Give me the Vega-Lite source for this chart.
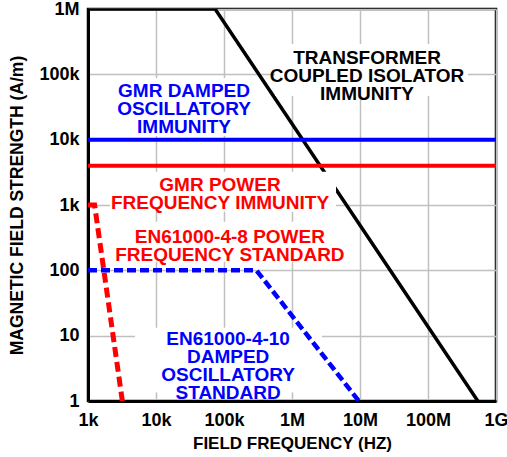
{
  "$schema": "https://vega.github.io/schema/vega-lite/v6.json",
  "autosize": {"type": "none"},
  "padding": {"left": 88, "top": 9, "right": 11, "bottom": 56},
  "width": 408,
  "height": 392,
  "background": "white",
  "config": {
    "view": {"stroke": "black", "strokeWidth": 2.5},
    "font": "Liberation Sans",
    "axis": {
      "labelFont": "Liberation Sans",
      "labelFontWeight": "bold",
      "labelFontSize": 18,
      "labelColor": "black",
      "titleFont": "Liberation Sans",
      "titleFontWeight": "bold",
      "titleFontSize": 17,
      "titleColor": "black",
      "ticks": false,
      "gridColor": "#c0c0c0",
      "gridWidth": 1.5,
      "gridOpacity": 1,
      "domainColor": "black",
      "domainWidth": 3,
      "labelOverlap": false,
      "labelFlush": false,
      "labelBound": false
    }
  },
  "datasets": {
    "lines": [
      {"series": "transformer", "f": 1000, "h": 1000000},
      {"series": "transformer", "f": 74000, "h": 1000000},
      {"series": "transformer", "f": 540000000, "h": 1},
      {"series": "gmr_damped", "f": 1000, "h": 10000},
      {"series": "gmr_damped", "f": 1000000000, "h": 10000},
      {"series": "gmr_power", "f": 1000, "h": 4000},
      {"series": "gmr_power", "f": 1000000000, "h": 4000},
      {"series": "en_8", "f": 1000, "h": 1000},
      {"series": "en_8", "f": 1250, "h": 1000},
      {"series": "en_8", "f": 3200, "h": 1},
      {"series": "en_10", "f": 1000, "h": 100},
      {"series": "en_10", "f": 300000, "h": 100},
      {"series": "en_10", "f": 9600000, "h": 1}
    ],
    "masks": [
      {"f1": 2763, "f2": 258000, "h1": 88100, "h2": 11400},
      {"f1": 562000, "f2": 387000000, "h1": 292000, "h2": 46800},
      {"f1": 2106, "f2": 4440000, "h1": 3220, "h2": 787},
      {"f1": 2254, "f2": 6220000, "h1": 553, "h2": 135},
      {"f1": 4914, "f2": 2760000, "h1": 13.2, "h2": 1.35}
    ],
    "labels": [
      {"series": "transformer", "f": 12700000, "h": 178000, "label": ["TRANSFORMER", "COUPLED ISOLATOR", "IMMUNITY"]},
      {"series": "gmr_damped", "f": 25800, "h": 55700, "label": ["GMR DAMPED", "OSCILLATORY", "IMMUNITY"]},
      {"series": "gmr_power", "f": 87300, "h": 2036, "label": ["GMR POWER", "FREQUENCY IMMUNITY"]},
      {"series": "en_8", "f": 122000, "h": 327, "label": ["EN61000-4-8 POWER", "FREQUENCY STANDARD"]},
      {"series": "en_10", "f": 115000, "h": 8.99, "label": ["EN61000-4-10", "DAMPED", "OSCILLATORY", "STANDARD"]}
    ]
  },
  "layer": [
    {
      "data": {"name": "lines"},
      "transform": [{"filter": "datum.series === 'transformer'"}],
      "mark": {"type": "line", "strokeWidth": 3.5, "clip": true},
      "encoding": {
        "x": {
          "field": "f", "type": "quantitative",
          "scale": {"type": "log", "domain": [1000, 1000000000], "nice": false},
          "axis": {
            "values": [1000, 10000, 100000, 1000000, 10000000, 100000000, 1000000000],
            "labelExpr": "datum.value >= 1e9 ? '1G' : datum.value >= 1e6 ? format(round(datum.value/1e6), 'd') + 'M' : format(round(datum.value/1e3), 'd') + 'k'",
            "labelPadding": 10,
            "title": "FIELD FREQUENCY (HZ)",
            "titlePadding": 6
          }
        },
        "y": {
          "field": "h", "type": "quantitative",
          "scale": {"type": "log", "domain": [1, 1000000], "nice": false},
          "axis": {
            "values": [1, 10, 100, 1000, 10000, 100000, 1000000],
            "labelExpr": "datum.value >= 1e6 ? '1M' : datum.value >= 1e3 ? format(round(datum.value/1e3), 'd') + 'k' : format(round(datum.value), 'd')",
            "labelPadding": 9,
            "title": "MAGNETIC FIELD STRENGTH (A/m)",
            "titleFontSize": 17.5,
            "titlePadding": 12
          }
        },
        "color": {
          "field": "series", "type": "nominal",
          "scale": {"domain": ["transformer", "gmr_damped", "gmr_power", "en_8", "en_10"], "range": ["#000000", "#0000ff", "#ff0000", "#ff0000", "#0000ff"]},
          "legend": null
        }
      }
    },
    {
      "data": {"name": "masks"},
      "mark": {"type": "rect", "fill": "white"},
      "encoding": {
        "x": {"field": "f1", "type": "quantitative"},
        "x2": {"field": "f2"},
        "y": {"field": "h1", "type": "quantitative"},
        "y2": {"field": "h2"}
      }
    },
    {
      "data": {"name": "lines"},
      "transform": [{"filter": "datum.series === 'gmr_damped' || datum.series === 'gmr_power'"}],
      "mark": {"type": "line", "strokeWidth": 4, "clip": true},
      "encoding": {
        "x": {"field": "f", "type": "quantitative"},
        "y": {"field": "h", "type": "quantitative"},
        "color": {"field": "series", "type": "nominal"}
      }
    },
    {
      "data": {"name": "lines"},
      "transform": [{"filter": "datum.series === 'en_8'"}],
      "mark": {"type": "line", "strokeWidth": 5, "strokeDash": [10, 5], "clip": true},
      "encoding": {
        "x": {"field": "f", "type": "quantitative"},
        "y": {"field": "h", "type": "quantitative"},
        "color": {"field": "series", "type": "nominal"}
      }
    },
    {
      "data": {"name": "lines"},
      "transform": [{"filter": "datum.series === 'en_10'"}],
      "mark": {"type": "line", "strokeWidth": 4.5, "strokeDash": [9, 4], "clip": true},
      "encoding": {
        "x": {"field": "f", "type": "quantitative"},
        "y": {"field": "h", "type": "quantitative"},
        "color": {"field": "series", "type": "nominal"}
      }
    },
    {
      "data": {"name": "labels"},
      "mark": {"type": "text", "font": "Liberation Sans", "fontWeight": "bold", "fontSize": 19, "lineHeight": 18, "align": "center", "baseline": "middle"},
      "encoding": {
        "x": {"field": "f", "type": "quantitative"},
        "y": {"field": "h", "type": "quantitative"},
        "text": {"field": "label"},
        "color": {"field": "series", "type": "nominal"}
      }
    }
  ]
}
